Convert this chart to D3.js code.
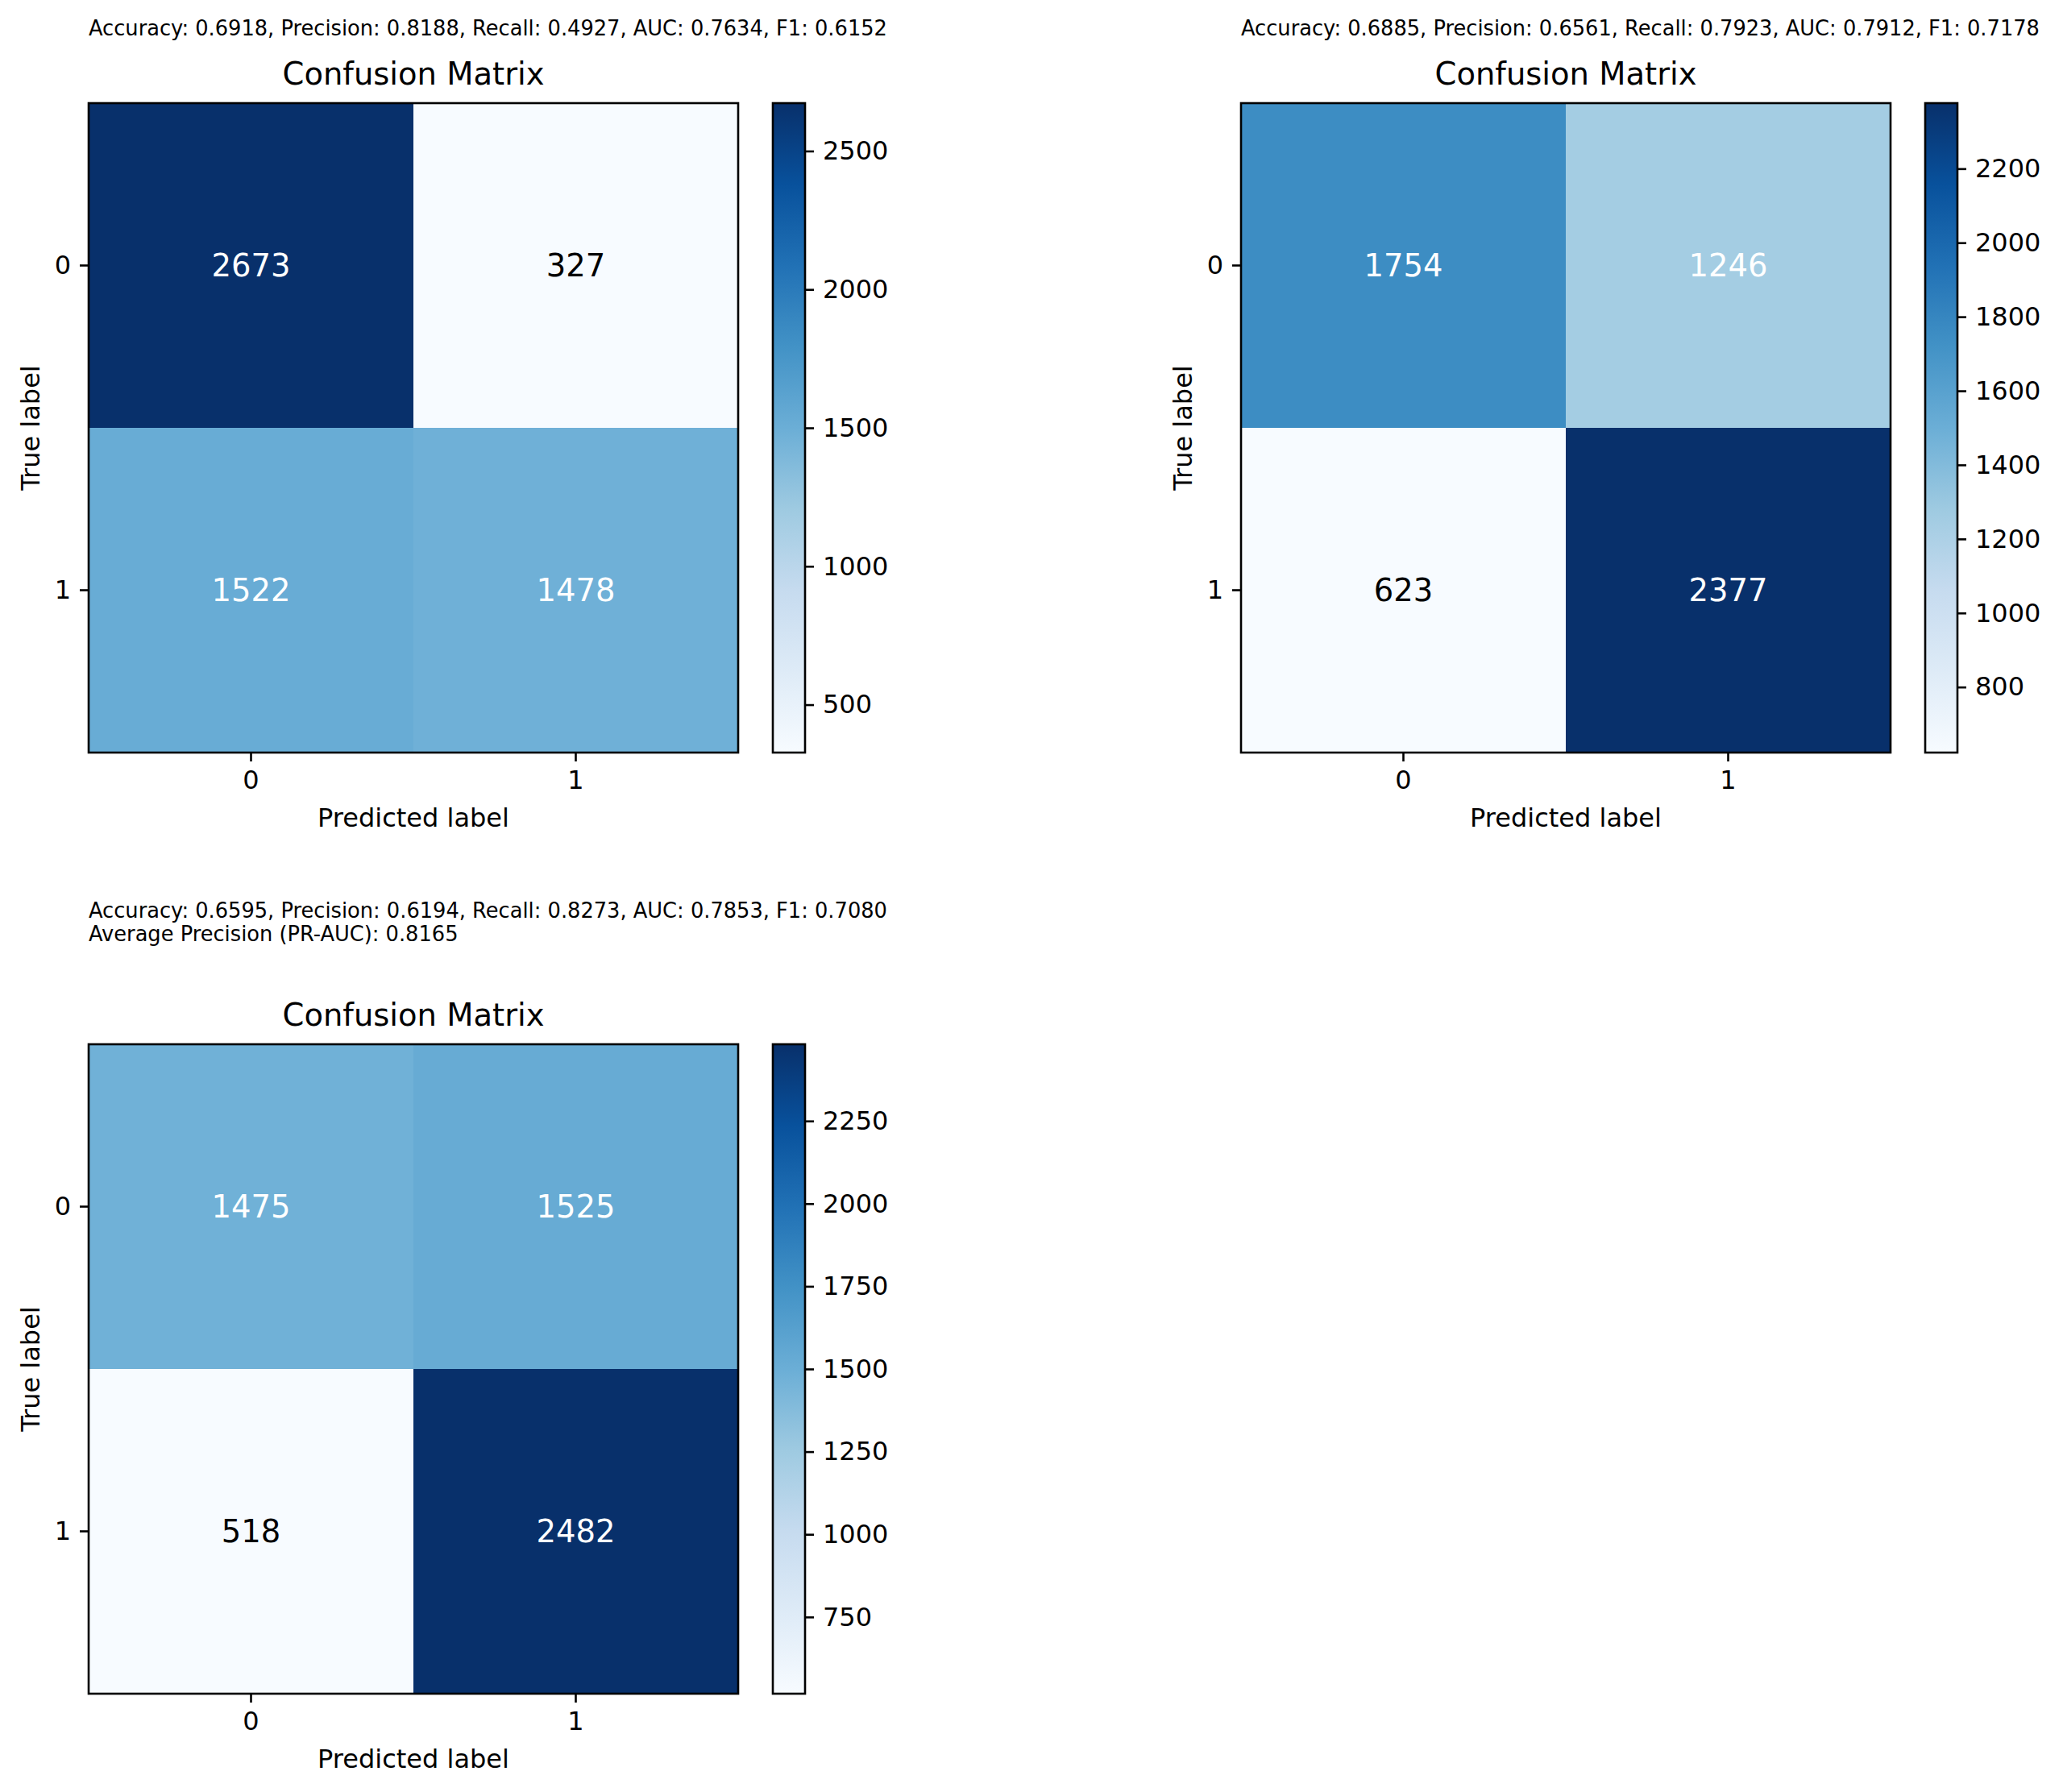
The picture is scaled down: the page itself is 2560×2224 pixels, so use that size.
<!DOCTYPE html>
<html>
<head>
<meta charset="utf-8">
<script src="https://cdn.jsdelivr.net/npm/d3@7"></script>
<style>
  body { margin: 0; background: #fff; }
  svg { display: block; font-family: "DejaVu Sans", sans-serif; }
</style>
</head>
<body>
<div id="chart"></div>
<script>
// ---- data ----
const classLabels = ['0', '1'];

const matrixA = [[2673, 327], [1522, 1478]];
const matrixB = [[1754, 1246], [623, 2377]];
const matrixC = [[1475, 1525], [518, 2482]];

const metricsA = ['Accuracy: 0.6918, Precision: 0.8188, Recall: 0.4927, AUC: 0.7634, F1: 0.6152'];
const metricsB = ['Accuracy: 0.6885, Precision: 0.6561, Recall: 0.7923, AUC: 0.7912, F1: 0.7178'];
const metricsC = ['Accuracy: 0.6595, Precision: 0.6194, Recall: 0.8273, AUC: 0.7853, F1: 0.7080',
                  'Average Precision (PR-AUC): 0.8165'];

const colorbarTicksA = [500, 1000, 1500, 2000, 2500];
const colorbarTicksB = [800, 1000, 1200, 1400, 1600, 1800, 2000, 2200];
const colorbarTicksC = [750, 1000, 1250, 1500, 1750, 2000, 2250];

// matplotlib "Blues" (ColorBrewer 9, linear segments)
const bluesStops = ['#f7fbff', '#deebf7', '#c6dbef', '#9ecae1', '#6baed6',
                    '#4292c6', '#2171b5', '#08519c', '#08306b'];

// ---- layout ----
const W = 2560, H = 2224;
const SIZE = 806;          // square axes
const CB_OFF = 849, CB_W = 40;
const LW = 2.6;            // spine / tick width

const panels = [
  { id: 'a', m: matrixA, metrics: metricsA, ticks: colorbarTicksA, x: 110,  y: 128,  textY: -84 },
  { id: 'b', m: matrixB, metrics: metricsB, ticks: colorbarTicksB, x: 1540, y: 128,  textY: -84 },
  { id: 'c', m: matrixC, metrics: metricsC, ticks: colorbarTicksC, x: 110,  y: 1296, textY: -157 },
];

const svg = d3.select('#chart').append('svg')
  .attr('width', W).attr('height', H)
  .attr('viewBox', `0 0 ${W} ${H}`);

svg.append('rect').attr('width', W).attr('height', H).attr('fill', '#fff');

function styleAxis(g, size) {
  g.attr('font-family', '"DejaVu Sans", sans-serif').attr('font-size', size);
  g.selectAll('.tick line').attr('stroke', '#000').attr('stroke-width', LW);
  g.selectAll('.tick text').attr('fill', '#000');
}

panels.forEach(p => {
  const values = p.m.flat();
  const vmin = d3.min(values), vmax = d3.max(values);

  // piecewise-linear colormap over [vmin, vmax]
  const color = d3.scaleLinear()
    .domain(bluesStops.map((_, i) => vmin + (vmax - vmin) * i / (bluesStops.length - 1)))
    .range(bluesStops)
    .interpolate(d3.interpolateRgb);

  const x = d3.scaleBand().domain(classLabels).range([0, SIZE]);
  const y = d3.scaleBand().domain(classLabels).range([0, SIZE]);

  const g = svg.append('g').attr('transform', `translate(${p.x},${p.y})`);

  // metrics text
  g.append('text')
    .attr('x', 0).attr('y', p.textY)
    .attr('font-size', 25.7)
    .attr('fill', '#000')
    .selectAll('tspan').data(p.metrics).join('tspan')
      .attr('x', 0)
      .attr('dy', (d, i) => i ? 29 : 0)
      .text(d => d);

  // title
  g.append('text')
    .attr('x', SIZE / 2).attr('y', -23)
    .attr('text-anchor', 'middle')
    .attr('font-size', 38.5)
    .attr('fill', '#000')
    .text('Confusion Matrix');

  // cells
  const cells = p.m.flatMap((row, i) => row.map((v, j) => ({ r: classLabels[i], c: classLabels[j], v })));
  g.selectAll('rect.cell').data(cells).join('rect')
    .attr('class', 'cell')
    .attr('x', d => x(d.c)).attr('y', d => y(d.r))
    .attr('width', x.bandwidth() + 0.5).attr('height', y.bandwidth() + 0.5)
    .attr('fill', d => color(d.v));

  g.selectAll('text.val').data(cells).join('text')
    .attr('class', 'val')
    .attr('x', d => x(d.c) + x.bandwidth() / 2)
    .attr('y', d => y(d.r) + y.bandwidth() / 2)
    .attr('text-anchor', 'middle')
    .attr('dy', '0.36em')
    .attr('font-size', 38.5)
    .attr('fill', d => d.v > vmax / 2 ? '#fff' : '#000')
    .text(d => d.v);

  // frame
  g.append('rect')
    .attr('width', SIZE).attr('height', SIZE)
    .attr('fill', 'none').attr('stroke', '#000').attr('stroke-width', LW);

  // axes
  const ax = g.append('g').attr('transform', `translate(0,${SIZE})`)
    .call(d3.axisBottom(x).tickSize(11).tickPadding(11).tickSizeOuter(0));
  ax.select('.domain').remove();
  styleAxis(ax, 32);

  const ay = g.append('g')
    .call(d3.axisLeft(y).tickSize(11).tickPadding(11).tickSizeOuter(0));
  ay.select('.domain').remove();
  styleAxis(ay, 32);

  g.append('text')
    .attr('x', SIZE / 2).attr('y', SIZE + 92)
    .attr('text-anchor', 'middle')
    .attr('font-size', 32).attr('fill', '#000')
    .text('Predicted label');

  g.append('text')
    .attr('transform', `translate(-61.5,${SIZE / 2}) rotate(-90)`)
    .attr('text-anchor', 'middle')
    .attr('font-size', 32).attr('fill', '#000')
    .text('True label');

  // colorbar
  const cb = g.append('g').attr('transform', `translate(${CB_OFF},0)`);
  const grad = svg.append('defs').append('linearGradient')
    .attr('id', 'grad-' + p.id)
    .attr('x1', 0).attr('y1', 1).attr('x2', 0).attr('y2', 0);
  grad.selectAll('stop').data(bluesStops).join('stop')
    .attr('offset', (d, i) => i / (bluesStops.length - 1))
    .attr('stop-color', d => d);

  cb.append('rect')
    .attr('width', CB_W).attr('height', SIZE)
    .attr('fill', `url(#grad-${p.id})`);

  const cbScale = d3.scaleLinear().domain([vmin, vmax]).range([SIZE, 0]);
  const cax = cb.append('g').attr('transform', `translate(${CB_W},0)`)
    .call(d3.axisRight(cbScale).tickValues(p.ticks).tickFormat(d3.format('d'))
      .tickSize(11).tickPadding(11).tickSizeOuter(0));
  cax.select('.domain').remove();
  styleAxis(cax, 32);

  cb.append('rect')
    .attr('width', CB_W).attr('height', SIZE)
    .attr('fill', 'none').attr('stroke', '#000').attr('stroke-width', LW);
});
</script>
</body>
</html>
